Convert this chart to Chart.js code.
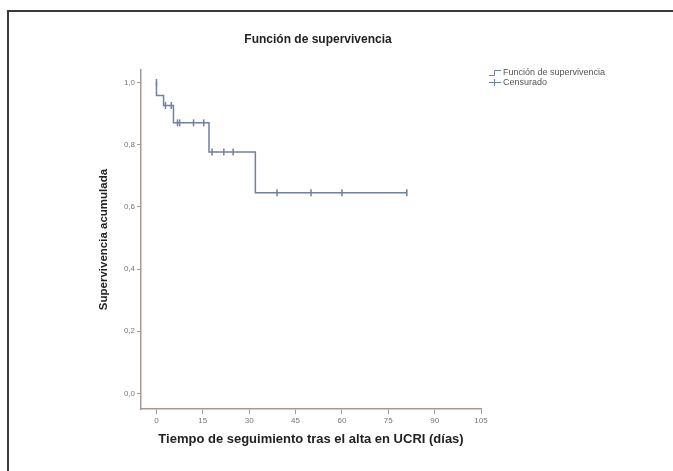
<!DOCTYPE html>
<html>
<head>
<meta charset="utf-8">
<script src="https://cdn.jsdelivr.net/npm/chart.js@4.4.1/dist/chart.umd.min.js"></script>
<style>
  body { margin: 0; background: #fff; }
  #wrap { position: relative; width: 673px; height: 471px; }
  #frame {
    position: absolute; left: 7px; top: 10px; right: 0; bottom: 0;
    border-top: 2px solid #3a3a3a; border-left: 2px solid #3a3a3a;
  }
  canvas { position: absolute; left: 0; top: 0; }
</style>
</head>
<body>
<div id="wrap">
  <div id="frame"></div>
  <canvas id="myChart" width="673" height="471"></canvas>
</div>
<script>
/* global Chart */

// Kaplan-Meier steps
let eventTimes = [0, 2.3, 5.5, 17, 32];
let survival = [0.958, 0.926, 0.87, 0.776, 0.645];
let lastTime = 81;
// censored observations (times)
let censorTimes = [0, 2.9, 4.8, 6.8, 7.5, 12, 15.3, 18, 21.8, 24.8, 39, 50, 60, 81];

let xTicks = [0, 15, 30, 45, 60, 75, 90, 105];
let yTicks = [0, 0.2, 0.4, 0.6, 0.8, 1.0];
let legendLabels = ["Función de supervivencia", "Censurado"];
let chartTitle = "Función de supervivencia";

const lineColor = "#6f7fa6";
const axisColor = "#a39b93";
const font = "'Liberation Sans', Arial, sans-serif";

// build the step path from the event list
let stepPts = [{ x: 0, y: 1 }];
let prev = 1;
for (let i = 0; i < eventTimes.length; i++) {
  stepPts.push({ x: eventTimes[i], y: prev });
  stepPts.push({ x: eventTimes[i], y: survival[i] });
  prev = survival[i];
}
stepPts.push({ x: lastTime, y: prev });

function survAt(t) {
  let s = 1;
  for (let i = 0; i < eventTimes.length; i++) {
    if (eventTimes[i] <= t && !(t === 0 && i === 0)) s = survival[i];
  }
  return s;
}
let censorPts = censorTimes.map(function (t) {
  return { x: t, y: survAt(t) };
});

// title and legend sit where SPSS put them, not where Chart.js would
const kmDecor = {
  id: "kmDecor",
  afterDraw(chart) {
    const c = chart.ctx;
    c.save();
    c.fillStyle = "#222";
    c.font = "bold 12px " + font;
    c.textAlign = "center";
    c.textBaseline = "middle";
    c.fillText(chartTitle, 318, 40);

    c.strokeStyle = lineColor;
    c.lineWidth = 1;
    // step icon
    c.beginPath();
    c.moveTo(489, 75.5);
    c.lineTo(494.5, 75.5);
    c.lineTo(494.5, 70.5);
    c.lineTo(501, 70.5);
    c.stroke();
    // censor icon
    c.beginPath();
    c.moveTo(489, 82.5);
    c.lineTo(501, 82.5);
    c.moveTo(494.5, 79);
    c.lineTo(494.5, 86);
    c.stroke();
    c.fillStyle = "#555";
    c.font = "9px " + font;
    c.textAlign = "left";
    c.fillText(legendLabels[0], 503, 72.5);
    c.fillText(legendLabels[1], 503, 82.5);
    c.restore();
  },
};

const ctx = document.getElementById("myChart");
const myChart = new Chart(ctx, {
  type: "scatter",
  data: {
    datasets: [
      {
        label: legendLabels[0],
        data: stepPts,
        showLine: true,
        borderColor: lineColor,
        borderWidth: 1.5,
        pointRadius: 0,
        tension: 0,
      },
      {
        label: legendLabels[1],
        data: censorPts,
        showLine: false,
        pointStyle: "line",
        rotation: 90,
        pointRadius: 3.5,
        borderColor: lineColor,
        borderWidth: 1.5,
      },
    ],
  },
  options: {
    responsive: false,
    animation: false,
    layout: { padding: { left: 81, right: 192, top: 70, bottom: 24 } },
    plugins: {
      legend: { display: false },
      tooltip: { enabled: false },
      title: { display: false },
    },
    scales: {
      x: {
        type: "linear",
        min: -5,
        max: 105,
        afterBuildTicks(scale) {
          scale.ticks = xTicks.map((v) => ({ value: v }));
        },
        afterFit(scale) {
          scale.height = 38;
        },
        border: { color: axisColor, width: 1.5 },
        grid: { drawOnChartArea: false, color: axisColor, tickLength: 5 },
        ticks: {
          color: "#777",
          padding: 2,
          font: { family: font, size: 8 },
        },
        title: {
          display: true,
          text: "Tiempo de seguimiento tras el alta en UCRI (días)",
          color: "#222",
          font: { family: font, size: 13, weight: "bold" },
          padding: { top: 4, bottom: 0 },
        },
      },
      y: {
        min: -0.05,
        max: 1.04,
        afterBuildTicks(scale) {
          scale.ticks = yTicks.map((v) => ({ value: v }));
        },
        afterFit(scale) {
          scale.width = 60;
        },
        border: { color: axisColor, width: 1.5 },
        grid: { drawOnChartArea: false, color: axisColor, tickLength: 4 },
        ticks: {
          color: "#777",
          padding: 2,
          font: { family: font, size: 8 },
          callback: function (v) {
            return v.toFixed(1).replace(".", ",");
          },
        },
        title: {
          display: true,
          text: "Supervivencia acumulada",
          color: "#222",
          font: { family: font, size: 11.5, weight: "bold" },
          padding: { top: 16, bottom: 0 },
        },
      },
    },
  },
  plugins: [kmDecor],
});
</script>
</body>
</html>
